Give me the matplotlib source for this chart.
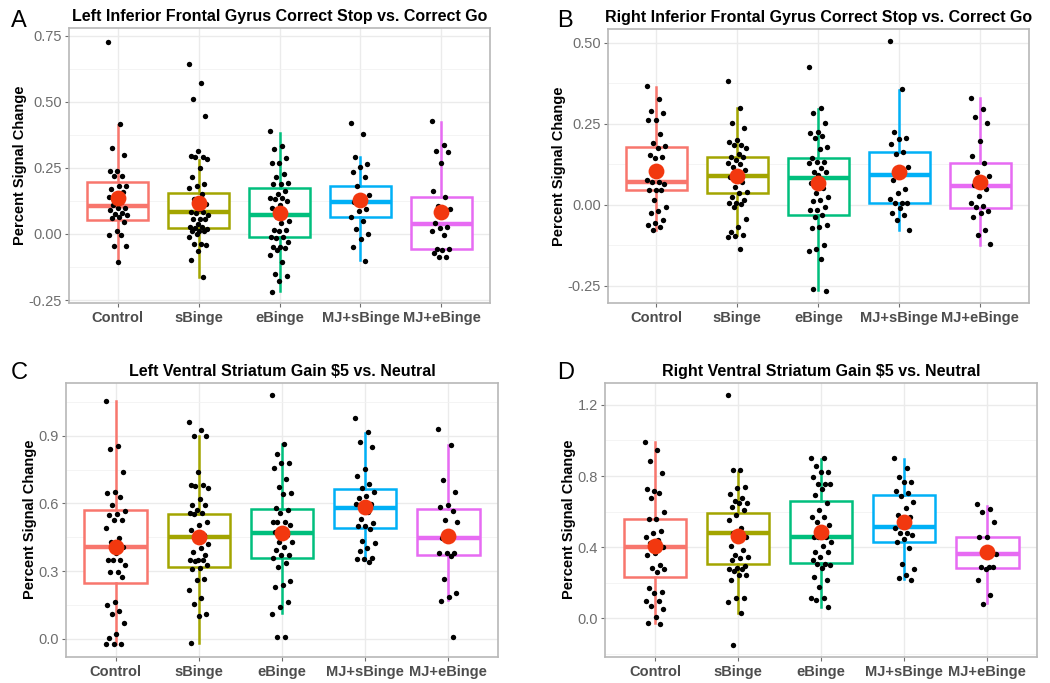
import matplotlib
matplotlib.use("Agg")
import matplotlib.pyplot as plt
import numpy as np

plt.rcParams['font.family'] = ['Liberation Sans', 'DejaVu Sans']

groups = ['Control', 'sBinge', 'eBinge', 'MJ+sBinge', 'MJ+eBinge']
group_colors = ['#F8766D', '#A3A500', '#00BF7D', '#00B0F6', '#E76BF3']
mean_color = '#F2380F'

# ---- panel A: Left Inferior Frontal Gyrus ----
a_points = [
    [0.726, 0.417, 0.325, 0.30, 0.24, 0.24, 0.22, 0.22, 0.18, 0.18, 0.17, 0.16, 0.15, 0.14,
     0.12, 0.11, 0.10, 0.10, 0.09, 0.08, 0.075, 0.07, 0.065, 0.06, 0.045, 0.013, -0.005,
     -0.005, -0.045, -0.045, -0.107],
    [0.644, 0.572, 0.509, 0.448, 0.313, 0.294, 0.29, 0.29, 0.285, 0.25, 0.217, 0.19, 0.183,
     0.173, 0.152, 0.133, 0.114, 0.095, 0.082, 0.082, 0.08, 0.07, 0.057, 0.057, 0.055, 0.038,
     0.025, 0.025, 0.022, 0.02, 0.013, 0.013, 0.01, 0.0, -0.013, -0.038, -0.038, -0.04, -0.063,
     -0.10, -0.164],
    [0.388, 0.331, 0.322, 0.288, 0.27, 0.268, 0.227, 0.215, 0.192, 0.19, 0.188, 0.164, 0.15,
     0.136, 0.135, 0.132, 0.126, 0.111, 0.098, 0.076, 0.063, 0.05, 0.04, 0.015, 0.015, 0.013,
     -0.013, -0.013, -0.015, -0.03, -0.05, -0.05, -0.052, -0.06, -0.08, -0.107, -0.15, -0.158,
     -0.177, -0.218],
    [0.42, 0.379, 0.29, 0.265, 0.253, 0.234, 0.217, 0.183, 0.149, 0.126, 0.12, 0.095, 0.085,
     0.063, 0.048, 0.019, 0.0, -0.019, -0.048, -0.101],
    [0.429, 0.338, 0.312, 0.31, 0.268, 0.164, 0.139, 0.107, 0.095, 0.08, 0.04, 0.025, 0.024,
     0.013, -0.004, -0.057, -0.057, -0.06, -0.072, -0.086, -0.088],
]
a_q1 = [0.054, 0.021, -0.013, 0.063, -0.057]
a_med = [0.107, 0.082, 0.072, 0.12, 0.038]
a_q3 = [0.198, 0.154, 0.173, 0.183, 0.141]
a_lo = [-0.10, -0.162, -0.215, -0.099, -0.057]
a_hi = [0.413, 0.278, 0.383, 0.29, 0.423]
a_mean = [0.136, 0.116, 0.081, 0.129, 0.082]

# ---- panel B: Right Inferior Frontal Gyrus ----
b_points = [
    [0.366, 0.325, 0.289, 0.284, 0.261, 0.26, 0.217, 0.189, 0.182, 0.174, 0.153, 0.148, 0.143,
     0.076, 0.071, 0.07, 0.064, 0.047, 0.047, 0.046, 0.016, -0.006, -0.02, -0.027, -0.047,
     -0.056, -0.063, -0.068, -0.078],
    [0.382, 0.297, 0.251, 0.236, 0.2, 0.194, 0.184, 0.183, 0.174, 0.158, 0.148, 0.147, 0.138,
     0.128, 0.127, 0.117, 0.107, 0.097, 0.086, 0.071, 0.056, 0.04, 0.035, 0.025, 0.014, 0.004,
     0.004, 0.003, -0.006, -0.044, -0.07, -0.083, -0.094, -0.095, -0.099, -0.135],
    [0.426, 0.297, 0.284, 0.251, 0.223, 0.222, 0.212, 0.205, 0.179, 0.172, 0.143, 0.131, 0.131,
     0.13, 0.112, 0.102, 0.101, 0.092, 0.068, 0.053, 0.035, 0.025, 0.014, 0.013, -0.006, -0.016,
     -0.017, -0.032, -0.037, -0.063, -0.068, -0.073, -0.124, -0.138, -0.142, -0.166, -0.259,
     -0.265],
    [0.504, 0.356, 0.223, 0.205, 0.204, 0.187, 0.164, 0.156, 0.117, 0.097, 0.076, 0.05, 0.035,
     0.019, 0.006, 0.006, 0.005, -0.011, -0.027, -0.032, -0.047, -0.078],
    [0.33, 0.295, 0.272, 0.251, 0.196, 0.151, 0.13, 0.1, 0.09, 0.076, 0.061, 0.05, 0.027, 0.006,
     -0.003, -0.008, -0.02, -0.024, -0.037, -0.078, -0.092, -0.122],
]
b_q1 = [0.045, 0.035, -0.032, 0.005, -0.011]
b_med = [0.071, 0.088, 0.083, 0.092, 0.059]
b_q3 = [0.178, 0.148, 0.145, 0.162, 0.129]
b_lo = [-0.078, -0.094, -0.263, -0.078, -0.125]
b_hi = [0.362, 0.297, 0.295, 0.354, 0.33]
b_mean = [0.105, 0.09, 0.066, 0.102, 0.069]

# ---- panel C: Left Ventral Striatum ----
c_points = [
    [1.054, 0.854, 0.839, 0.74, 0.649, 0.648, 0.63, 0.593, 0.567, 0.551, 0.55, 0.526, 0.525,
     0.489, 0.448, 0.43, 0.408, 0.378, 0.349, 0.348, 0.347, 0.327, 0.297, 0.296, 0.272, 0.164,
     0.149, 0.124, 0.108, 0.071, 0.021, 0.004, -0.025, -0.025, -0.024],
    [0.959, 0.925, 0.9, 0.898, 0.737, 0.681, 0.68, 0.679, 0.666, 0.618, 0.593, 0.592, 0.57,
     0.556, 0.555, 0.554, 0.519, 0.504, 0.482, 0.46, 0.437, 0.42, 0.4, 0.386, 0.37, 0.349, 0.348,
     0.347, 0.346, 0.327, 0.312, 0.311, 0.263, 0.262, 0.216, 0.179, 0.152, 0.109, 0.1, -0.021],
    [1.08, 0.863, 0.819, 0.78, 0.779, 0.755, 0.706, 0.674, 0.647, 0.64, 0.578, 0.57, 0.559,
     0.519, 0.518, 0.517, 0.504, 0.474, 0.473, 0.46, 0.43, 0.429, 0.408, 0.393, 0.371, 0.37,
     0.356, 0.334, 0.316, 0.257, 0.238, 0.231, 0.164, 0.142, 0.109, 0.009, 0.008],
    [0.977, 0.918, 0.873, 0.848, 0.751, 0.721, 0.684, 0.666, 0.652, 0.632, 0.622, 0.598, 0.597,
     0.596, 0.563, 0.531, 0.511, 0.5, 0.499, 0.485, 0.433, 0.426, 0.4, 0.39, 0.356, 0.355,
     0.354, 0.341],
    [0.928, 0.859, 0.703, 0.652, 0.593, 0.585, 0.567, 0.526, 0.516, 0.47, 0.445, 0.381, 0.38,
     0.379, 0.366, 0.263, 0.201, 0.186, 0.168, 0.009],
]
c_q1 = [0.245, 0.319, 0.356, 0.489, 0.371]
c_med = [0.408, 0.452, 0.47, 0.578, 0.448]
c_q3 = [0.57, 0.553, 0.575, 0.662, 0.573]
c_lo = [-0.024, -0.021, 0.112, 0.349, 0.171]
c_hi = [1.054, 0.9, 0.863, 0.91, 0.859]
c_mean = [0.408, 0.452, 0.47, 0.585, 0.455]

# ---- panel D: Right Ventral Striatum ----
d_points = [
    [0.994, 0.947, 0.887, 0.819, 0.718, 0.726, 0.707, 0.675, 0.596, 0.557, 0.556, 0.491, 0.478,
     0.459, 0.441, 0.426, 0.4, 0.366, 0.356, 0.3, 0.281, 0.28, 0.259, 0.169, 0.146, 0.141, 0.099,
     0.098, 0.071, 0.051, 0.009, -0.028, -0.034],
    [1.256, 0.834, 0.833, 0.741, 0.731, 0.698, 0.675, 0.662, 0.647, 0.646, 0.628, 0.609, 0.581,
     0.553, 0.506, 0.478, 0.459, 0.441, 0.409, 0.384, 0.356, 0.347, 0.338, 0.328, 0.296, 0.281,
     0.28, 0.279, 0.268, 0.244, 0.243, 0.216, 0.113, 0.112, 0.09, 0.028, -0.15],
    [0.9, 0.899, 0.859, 0.825, 0.824, 0.797, 0.756, 0.755, 0.754, 0.726, 0.694, 0.647, 0.609,
     0.572, 0.571, 0.544, 0.525, 0.497, 0.459, 0.458, 0.457, 0.431, 0.407, 0.375, 0.374, 0.347,
     0.328, 0.304, 0.303, 0.302, 0.281, 0.234, 0.216, 0.174, 0.116, 0.115, 0.103, 0.066],
    [0.9, 0.844, 0.797, 0.769, 0.768, 0.718, 0.703, 0.688, 0.653, 0.619, 0.581, 0.572, 0.553,
     0.506, 0.482, 0.481, 0.469, 0.444, 0.431, 0.394, 0.306, 0.276, 0.244, 0.225, 0.216],
    [0.643, 0.613, 0.6, 0.544, 0.459, 0.458, 0.375, 0.366, 0.36, 0.291, 0.29, 0.289, 0.276,
     0.216, 0.131, 0.079],
]
d_q1 = [0.234, 0.304, 0.309, 0.431, 0.285]
d_med = [0.4, 0.482, 0.459, 0.516, 0.36]
d_q3 = [0.559, 0.591, 0.66, 0.694, 0.459]
d_lo = [-0.028, 0.032, 0.066, 0.219, 0.084]
d_hi = [0.994, 0.825, 0.896, 0.896, 0.632]
d_mean = [0.409, 0.461, 0.484, 0.54, 0.371]

panels = [
    ('A', 'Left Inferior Frontal Gyrus Correct Stop vs. Correct Go',
     a_points, a_q1, a_med, a_q3, a_lo, a_hi, a_mean,
     [0.0657, 0.5564, 0.4010, 0.4026], (-0.261, 0.779),
     [-0.25, 0.0, 0.25, 0.5, 0.75], ['-0.25', '0.00', '0.25', '0.50', '0.75'],
     (0.010, 0.969)),
    ('B', 'Right Inferior Frontal Gyrus Correct Stop vs. Correct Go',
     b_points, b_q1, b_med, b_q3, b_lo, b_hi, b_mean,
     [0.5788, 0.5564, 0.4012, 0.4011], (-0.303, 0.542),
     [-0.25, 0.0, 0.25, 0.5], ['-0.25', '0.00', '0.25', '0.50'],
     (0.531, 0.969)),
    ('C', 'Left Ventral Striatum Gain $5 vs. Neutral',
     c_points, c_q1, c_med, c_q3, c_lo, c_hi, c_mean,
     [0.0626, 0.0385, 0.4120, 0.4012], (-0.08, 1.135),
     [0.0, 0.3, 0.6, 0.9], ['0.0', '0.3', '0.6', '0.9'],
     (0.010, 0.454)),
    ('D', 'Right Ventral Striatum Gain $5 vs. Neutral',
     d_points, d_q1, d_med, d_q3, d_lo, d_hi, d_mean,
     [0.5762, 0.0385, 0.4117, 0.4012], (-0.216, 1.325),
     [0.0, 0.4, 0.8, 1.2], ['0.0', '0.4', '0.8', '1.2'],
     (0.531, 0.454)),
]

fig = plt.figure(figsize=(10.5, 6.83), dpi=100)

for letter, title, pts, q1, med, q3, lo, hi, mn, rect, ylim, yt, ytl, lpos in panels:
    ax = fig.add_axes(rect)
    ax.set_facecolor('white')

    # grid: major + minor halfway between
    step = yt[1] - yt[0]
    minor = [v + step / 2 for v in [yt[0] - step] + yt]
    ax.set_yticks(yt)
    ax.set_yticklabels(ytl)
    ax.set_yticks(minor, minor=True)
    ax.grid(True, which='major', color='#EBEBEB', linewidth=1.0)
    ax.grid(True, which='minor', axis='y', color='#F2F2F2', linewidth=0.6)
    ax.set_axisbelow(True)

    stats = []
    for i in range(5):
        stats.append(dict(q1=q1[i], med=med[i], q3=q3[i], whislo=lo[i], whishi=hi[i],
                          mean=mn[i], fliers=[]))
    bp = ax.bxp(stats, positions=range(1, 6), widths=0.75, showcaps=False,
                showfliers=False, showmeans=False, patch_artist=True)
    for i, col in enumerate(group_colors):
        bp['boxes'][i].set(facecolor='white', edgecolor=col, linewidth=1.8)
        bp['medians'][i].set(color=col, linewidth=3.2)
        bp['whiskers'][2 * i].set(color=col, linewidth=1.8)
        bp['whiskers'][2 * i + 1].set(color=col, linewidth=1.8)

    # jittered raw points (deterministic jitter)
    for i, vals in enumerate(pts):
        k = np.arange(len(vals))
        offs = ((k * 0.6180339) % 1.0 - 0.5) * 0.24
        ax.scatter(i + 1 + offs, vals, s=15, color='black', zorder=4, linewidths=0)

    ax.scatter(range(1, 6), mn, s=130, color=mean_color, zorder=5, linewidths=0)

    ax.set_xlim(0.4, 5.6)
    ax.set_ylim(*ylim)
    ax.set_xticks(range(1, 6))
    ax.set_xticklabels(groups, fontsize=10.5, fontweight='bold', color='#4D4D4D')
    ax.tick_params(axis='y', which='major', labelsize=10.5, labelcolor='#6E6E6E',
                   color='#6E6E6E', length=3, pad=2)
    ax.tick_params(axis='y', which='minor', length=0)
    ax.tick_params(axis='x', color='#6E6E6E', length=3, pad=3)
    for s in ax.spines.values():
        s.set_color('#B8B8B8')
        s.set_linewidth(1.2)

    ax.set_ylabel('Percent Signal Change', fontsize=10.5, fontweight='bold', labelpad=1)
    ax.set_title(title, fontsize=11.5, fontweight='bold', pad=5)

    fig.text(lpos[0], lpos[1], letter, fontsize=17, va='center', ha='left')

fig.savefig('out.png', dpi=100)
